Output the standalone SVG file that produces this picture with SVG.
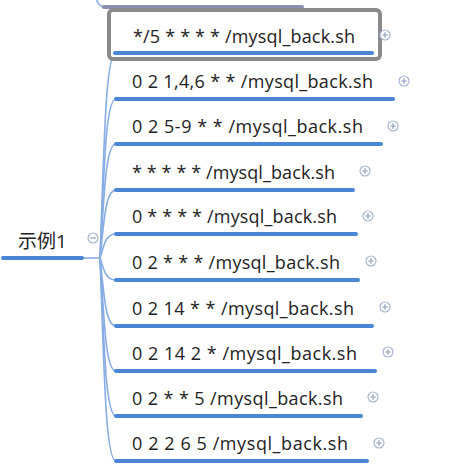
<svg xmlns="http://www.w3.org/2000/svg" width="450" height="470" viewBox="0 0 450 470">
<defs>
<style>
.t{font-family:"Open Sans","Noto Sans","Noto Sans CJK SC",sans-serif;font-size:18px;fill:#222}
.r{font-size:19px}
.ul{stroke:#4a85d6;stroke-width:4;stroke-linecap:round;fill:none}
.cn{stroke:#88ace4;stroke-width:1.6;fill:none}
.ic{fill:#fff;stroke:#a7b5d3;stroke-width:1.2}
.ig{stroke:#8e9dbd;stroke-width:1.2}
</style>
<g id="plus"><circle class="ic" cx="0" cy="0" r="5"/><path class="ig" d="M-2.8 0H2.8M0 -2.8V2.8"/></g>
</defs>
<rect width="450" height="470" fill="#fff"/>
<g id="connectors">
<path class="cn" d="M82 258H100"/>
<path class="cn" d="M96 -2 Q98 7 106 7"/>
<path class="cn" d="M100 258 C104 155,105 53,116 53"/>
<path class="cn" d="M100 258 C104 178,105 99,116 99"/>
<path class="cn" d="M100 258 C104 201,105 144,116 144"/>
<path class="cn" d="M100 258 C104 224,105 190,116 190"/>
<path class="cn" d="M100 258 C104 246,105 234,116 234"/>
<path class="cn" d="M100 258 C104 269,105 280,116 280"/>
<path class="cn" d="M100 258 C104 292,105 326,116 326"/>
<path class="cn" d="M100 258 C104 314,105 371,116 371"/>
<path class="cn" d="M100 258 C104 337,105 416,116 416"/>
<path class="cn" d="M100 258 C104 360,105 461,116 461"/>
</g>
<g id="top-partial">
<path d="M104 7H302" stroke="#8a90b0" stroke-width="4" stroke-linecap="round"/>
</g>
<g id="root">
<text class="t r" x="18" y="248">示例1</text>
<path class="ul" d="M3 258H82"/>
<circle class="ic" cx="93" cy="238" r="5"/><path class="ig" d="M90.2 238H95.8"/>
</g>
<g id="n1">
<rect x="109" y="10" width="271" height="49" rx="4" fill="#fff" stroke="#8a8a8a" stroke-width="4"/>
<text class="t" x="133" y="43" textLength="222">*/5 * * * * /mysql_back.sh</text>
<path class="ul" d="M115 53H372"/>
<use href="#plus" x="385" y="35"/>
</g>
<g id="n2">
<text class="t" x="132" y="88" textLength="241">0 2 1,4,6 * * /mysql_back.sh</text>
<path class="ul" d="M116 99H393"/>
<use href="#plus" x="404" y="81"/>
</g>
<g id="n3">
<text class="t" x="132" y="133" textLength="231">0 2 5-9 * * /mysql_back.sh</text>
<path class="ul" d="M116 144H381"/>
<use href="#plus" x="393" y="126"/>
</g>
<g id="n4">
<text class="t" x="132" y="179" textLength="203">* * * * * /mysql_back.sh</text>
<path class="ul" d="M116 190H353"/>
<use href="#plus" x="365" y="171"/>
</g>
<g id="n5">
<text class="t" x="132" y="223" textLength="205">0 * * * * /mysql_back.sh</text>
<path class="ul" d="M116 234H356"/>
<use href="#plus" x="368" y="216"/>
</g>
<g id="n6">
<text class="t" x="132" y="269" textLength="208">0 2 * * * /mysql_back.sh</text>
<path class="ul" d="M116 280H358"/>
<use href="#plus" x="371" y="261"/>
</g>
<g id="n7">
<text class="t" x="132" y="315" textLength="222">0 2 14 * * /mysql_back.sh</text>
<path class="ul" d="M116 326H372"/>
<use href="#plus" x="385" y="307"/>
</g>
<g id="n8">
<text class="t" x="132" y="360" textLength="225">0 2 14 2 * /mysql_back.sh</text>
<path class="ul" d="M116 371H375"/>
<use href="#plus" x="388" y="352"/>
</g>
<g id="n9">
<text class="t" x="132" y="405" textLength="211">0 2 * * 5 /mysql_back.sh</text>
<path class="ul" d="M116 416H361"/>
<use href="#plus" x="373" y="397"/>
</g>
<g id="n10">
<text class="t" x="132" y="450" textLength="216">0 2 2 6 5 /mysql_back.sh</text>
<path class="ul" d="M116 461H367"/>
<use href="#plus" x="379" y="443"/>
</g>
</svg>
